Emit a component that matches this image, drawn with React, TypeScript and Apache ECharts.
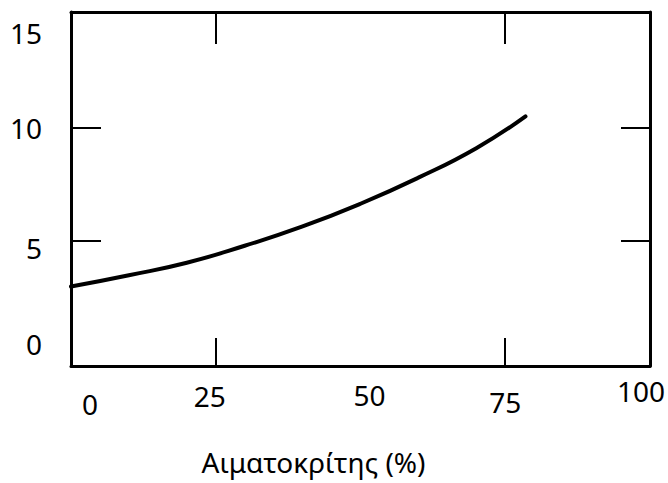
import React, { useEffect, useRef } from "react";
import * as echarts from "echarts";

const hematocrit = [0, 10, 20, 30, 40, 50, 60, 70, 78.5];
const viscosity = [3.0, 3.5, 4.05, 4.8, 5.65, 6.65, 7.8, 9.1, 10.5];
const xTickLabels = [0, 25, 50, 75, 100];
const xTickMarks = [25, 75];
const yTickLabels = [0, 5, 10, 15];
const yTickMarks = [5, 10];
const xTitle = "Αιματοκρίτης (%)";

const FONT = "Noto Sans";
const FS = 28;

export default function App() {
  const ref = useRef<HTMLDivElement>(null);
  useEffect(() => {
    if (!ref.current) return;
    const chart = echarts.init(ref.current, undefined, { renderer: "svg" });
    const axisLine = { show: true, onZero: false, lineStyle: { color: "#000", width: 3 } };
    const base = { fontSize: FS, fontFamily: FONT, color: "#000" };
    const xRich: any = {
      x0: { ...base, padding: [13, 0, 0, 38] },
      x25: { ...base, padding: [5, 12, 0, 0] },
      x50: { ...base, padding: [4, 0, 0, 18] },
      x75: { ...base, padding: [11, 0, 0, 0] },
      x100: { ...base, padding: [0, 18, 0, 0] },
    };
    const yRich: any = {
      y0: { ...base, padding: [0, 0, 22, 0] },
      y5: { ...base, padding: [14, 0, 0, 0] },
      y10: { ...base },
      y15: { ...base, padding: [38, 0, 0, 0] },
    };
    chart.setOption({
      animation: false,
      backgroundColor: "#fff",
      grid: { left: 71, right: 18, top: 12, bottom: 117, containLabel: false },
      xAxis: [
        {
          type: "value",
          position: "bottom",
          min: 0,
          max: 100,
          axisLine,
          splitLine: { show: false },
          axisTick: { show: true, inside: true, length: 28, customValues: xTickMarks, lineStyle: { color: "#000", width: 2 } },
          axisLabel: {
            show: true,
            customValues: xTickLabels,
            margin: 11,
            formatter: (v: number) => `{x${v}|${v}}`,
            rich: xRich,
          },
          name: xTitle,
          nameLocation: "middle",
          nameGap: 82,
          nameTextStyle: { fontSize: FS, fontFamily: FONT, color: "#000", padding: [0, 94, 0, 0] },
        },
        {
          type: "value",
          position: "top",
          min: 0,
          max: 100,
          axisLine,
          splitLine: { show: false },
          axisTick: { show: true, inside: true, length: 32, customValues: xTickMarks, lineStyle: { color: "#000", width: 2 } },
          axisLabel: { show: false },
        },
      ],
      yAxis: [
        {
          type: "value",
          position: "left",
          min: -0.5,
          max: 15.1,
          axisLine,
          splitLine: { show: false },
          axisTick: { show: true, inside: true, length: 30, customValues: yTickMarks, lineStyle: { color: "#000", width: 2 } },
          axisLabel: {
            show: true,
            customValues: yTickLabels,
            margin: 29,
            formatter: (v: number) => `{y${v}|${v}}`,
            rich: yRich,
          },
        },
        {
          type: "value",
          position: "right",
          min: -0.5,
          max: 15.1,
          axisLine,
          splitLine: { show: false },
          axisTick: { show: true, inside: true, length: 29, customValues: yTickMarks, lineStyle: { color: "#000", width: 2 } },
          axisLabel: { show: false },
        },
      ],
      series: [
        {
          type: "line",
          xAxisIndex: 0,
          yAxisIndex: 0,
          smooth: 0.5,
          showSymbol: false,
          data: hematocrit.map((h, i) => [h, viscosity[i]]),
          lineStyle: { color: "#000", width: 4, cap: "round" },
        },
      ],
    });
    return () => chart.dispose();
  }, []);
  return (
    <div
      ref={ref}
      style={{ position: "absolute", left: 0, top: 0, width: 668, height: 483 }}
    />
  );
}
